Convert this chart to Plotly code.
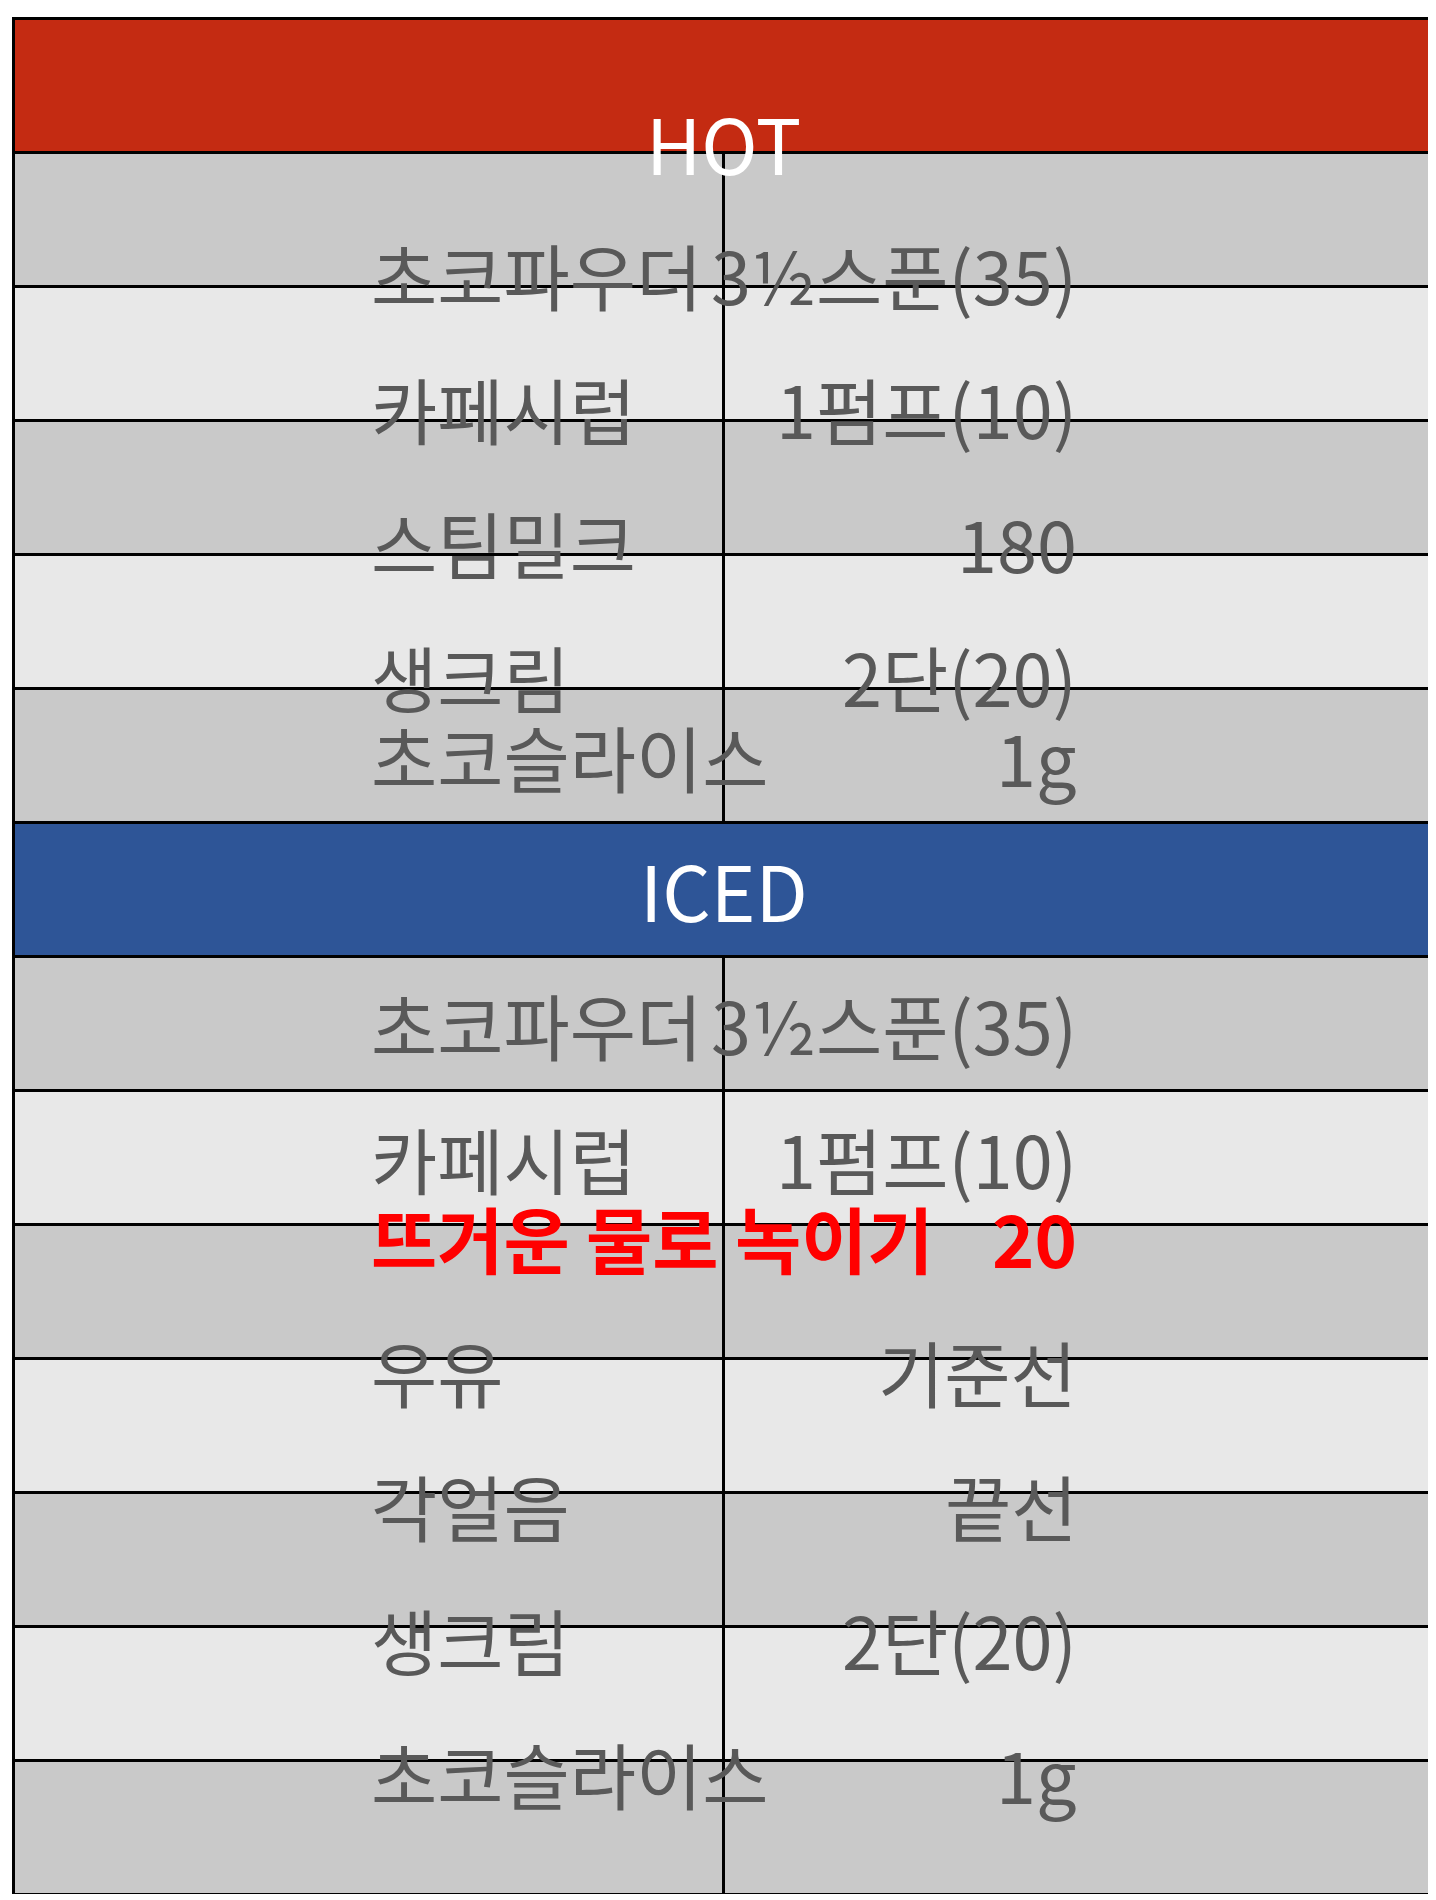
import plotly.graph_objects as go

hot_items = ["초코파우더", "카페시럽", "스팀밀크", "생크림", "초코슬라이스"]
hot_amounts = ["3½스푼(35)", "1펌프(10)", "180", "2단(20)", "1g"]
iced_items = ["초코파우더", "카페시럽", "뜨거운 물로 녹이기", "우유", "각얼음", "생크림", "초코슬라이스"]
iced_amounts = ["3½스푼(35)", "1펌프(10)", "20", "기준선", "끝선", "2단(20)", "1g"]

W, H = 1436, 1900
TOP = 10
ROW = 134
X0, X1 = 0.004, 0.993
FONT = "Noto Sans CJK KR"
GRAY = "#595959"
DARK_FILL = "#c9c9c9"
LIGHT_FILL = "#e8e8e8"

annotations = []


def dom(start_row, n):
    y0 = TOP + start_row * ROW
    y1 = y0 + n * ROW
    return [1 - y1 / H, 1 - y0 / H]


def row_center(row):
    return 1 - (TOP + (row + 0.5) * ROW) / H


def add_text(text, x, row, color, size, bold=False):
    annotations.append(dict(text=f"<b>{text}</b>" if bold else text, x=x, y=row_center(row),
                            xref="paper", yref="paper", showarrow=False,
                            font=dict(family=FONT, size=size, color=color)))


def header_table(text, color, start_row):
    add_text(text, (X0 + X1) / 2, start_row, "white", 76)
    return go.Table(
        domain=dict(x=[X0, X1], y=dom(start_row, 1)),
        header=dict(values=[""], fill_color=color, line=dict(color="black", width=3),
                    height=ROW),
        cells=dict(values=[[]]),
    )


def body_table(items, amounts, start_row, red_row=None):
    fills = [DARK_FILL if i % 2 == 0 else LIGHT_FILL for i in range(len(items))]
    xm = (X1 - X0) / 4
    for i, (a, b) in enumerate(zip(items, amounts)):
        red = i == red_row
        c = "#ff0000" if red else GRAY
        add_text(a, X0 + xm, start_row + i, c, 72, bold=red)
        add_text(b, X0 + 3 * xm, start_row + i, c, 72, bold=red)
    return go.Table(
        domain=dict(x=[X0, X1], y=dom(start_row, len(items))),
        columnwidth=[1, 1],
        header=dict(values=["", ""], height=0, line=dict(width=0), fill_color="rgba(0,0,0,0)"),
        cells=dict(values=[[""] * len(items), [""] * len(items)], fill_color=[fills, fills],
                   line=dict(color="black", width=3), height=ROW),
    )


fig = go.Figure([
    header_table("HOT", "#c42b12", 0),
    body_table(hot_items, hot_amounts, 1),
    header_table("ICED", "#2e5597", 6),
    body_table(iced_items, iced_amounts, 7, red_row=2),
])
fig.update_layout(width=W, height=H, margin=dict(l=0, r=0, t=0, b=0),
                  paper_bgcolor="white", annotations=annotations)
fig.write_html("out.html")
